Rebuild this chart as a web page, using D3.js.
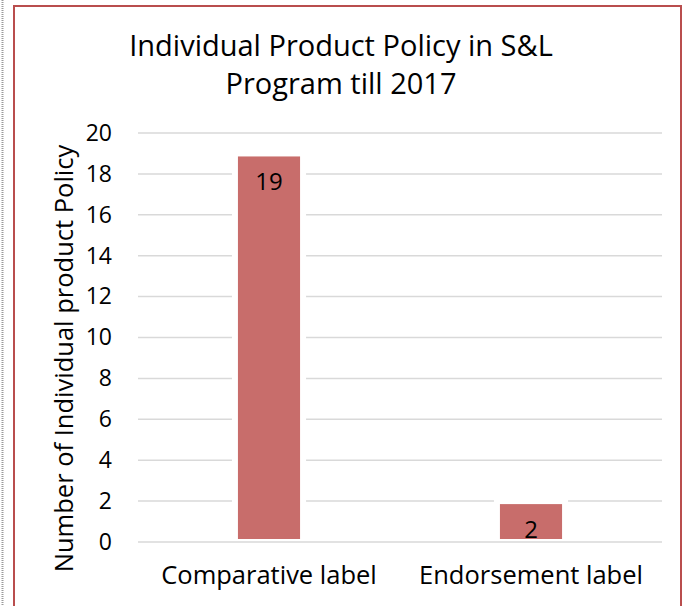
<!DOCTYPE html>
<html>
<head>
<meta charset="utf-8">
<script src="https://cdn.jsdelivr.net/npm/d3@7"></script>
<style>
  body { margin: 0; background: #fff; }
  svg { display: block; font-family: "Open Sans", sans-serif; }
</style>
</head>
<body>
<div id="chart"></div>
<script>
const categories = ["Comparative label", "Endorsement label"];
const values = [19, 2];
const yTicks = [0, 2, 4, 6, 8, 10, 12, 14, 16, 18, 20];
const titleLines = ["Individual Product Policy in S&L", "Program till 2017"];
const yLabel = "Number of Individual product Policy";

function drawChart() {
  const width = 682;
  const height = 606;
  const plot = { left: 138, right: 662, top: 133, bottom: 542 };

  const svg = d3.select("#chart")
    .append("svg")
    .attr("width", width)
    .attr("height", height);

  // dotted page edge on the far left
  svg.append("line")
    .attr("x1", 2.5).attr("x2", 2.5)
    .attr("y1", 0).attr("y2", height)
    .style("stroke", "#9a9a9a")
    .style("stroke-width", 2)
    .style("stroke-dasharray", "1,1");

  // chart frame
  svg.append("path")
    .attr("d", `M14,${height} L14,6 L681,6 L681,${height}`)
    .style("fill", "none")
    .style("stroke", "#b94e4e")
    .style("stroke-width", 2);

  const xScale = d3.scaleBand()
    .domain(categories)
    .range([plot.left, plot.right])
    .paddingInner(0.74)
    .paddingOuter(0.37);

  const yScale = d3.scaleLinear()
    .domain([0, 20])
    .range([plot.bottom, plot.top]);

  // gridlines
  svg.append("g")
    .selectAll("line")
    .data(yTicks.filter((d) => d !== 0))
    .enter()
    .append("line")
    .attr("x1", plot.left)
    .attr("x2", plot.right)
    .attr("y1", (d) => yScale(d))
    .attr("y2", (d) => yScale(d))
    .style("stroke", "#d9d9d9")
    .style("stroke-width", 1.5);

  // bars
  svg.selectAll(".bar")
    .data(values)
    .enter()
    .append("rect")
    .attr("class", "bar")
    .attr("x", (d, i) => xScale(categories[i]))
    .attr("y", (d) => yScale(d))
    .attr("width", xScale.bandwidth())
    .attr("height", (d) => yScale(0) - yScale(d))
    .style("fill", "#c86d6b")
    .style("stroke", "#fff")
    .style("stroke-width", 6);

  // baseline
  svg.append("line")
    .attr("x1", plot.left)
    .attr("x2", plot.right)
    .attr("y1", yScale(0))
    .attr("y2", yScale(0))
    .style("stroke", "#d9d9d9")
    .style("stroke-width", 1.5);

  // data labels
  svg.selectAll(".value-label")
    .data(values)
    .enter()
    .append("text")
    .attr("class", "value-label")
    .attr("x", (d, i) => xScale(categories[i]) + xScale.bandwidth() / 2)
    .attr("y", (d) => yScale(d) + 37)
    .attr("text-anchor", "middle")
    .style("font-size", "24px")
    .style("fill", "#000")
    .text((d) => d);

  // y axis
  const yAxis = d3.axisLeft(yScale)
    .tickValues(yTicks)
    .tickSize(0)
    .tickPadding(26);

  svg.append("g")
    .attr("transform", `translate(${plot.left},0)`)
    .call(yAxis)
    .call((g) => g.select(".domain").remove())
    .selectAll("text")
    .style("font-family", "Open Sans, sans-serif")
    .style("font-size", "23px")
    .style("fill", "#000");

  // x axis
  const xAxis = d3.axisBottom(xScale)
    .tickSize(0)
    .tickPadding(24);

  svg.append("g")
    .attr("transform", `translate(0,${plot.bottom})`)
    .call(xAxis)
    .call((g) => g.select(".domain").remove())
    .selectAll("text")
    .style("font-family", "Open Sans, sans-serif")
    .style("font-size", "25.5px")
    .style("fill", "#000");

  // title
  svg.append("text")
    .attr("x", 341)
    .attr("y", 56)
    .attr("text-anchor", "middle")
    .style("font-size", "29px")
    .selectAll("tspan")
    .data(titleLines)
    .enter()
    .append("tspan")
    .attr("x", 341)
    .attr("dy", (d, i) => (i === 0 ? 0 : 38))
    .text((d) => d);

  // y label
  svg.append("text")
    .attr("transform", `translate(73,${(145 + 572) / 2}) rotate(-90)`)
    .attr("text-anchor", "middle")
    .style("font-size", "25.5px")
    .text(yLabel);
}

drawChart();
</script>
</body>
</html>
